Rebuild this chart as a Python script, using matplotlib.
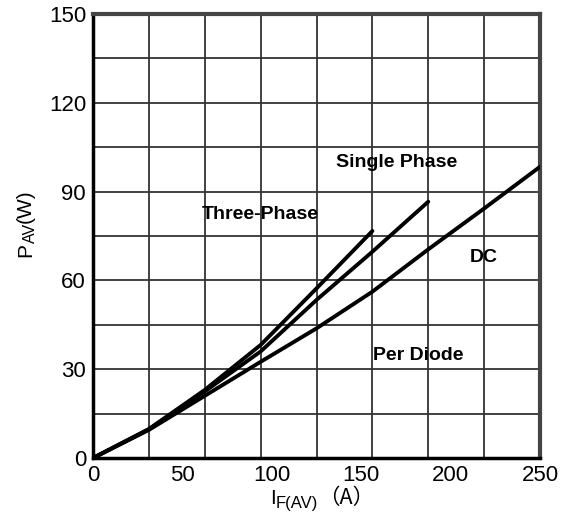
import numpy as np
import matplotlib
matplotlib.use("Agg")
import matplotlib.pyplot as plt

plt.rcParams['font.family'] = ['Liberation Sans', 'DejaVu Sans']

# current (A) vs average power (W)
i_three = [0, 31.25, 62.5, 93.75, 125, 156.25]
p_three = [0, 9.8, 23.0, 38.2, 57.3, 76.7]
i_single = [0, 31.25, 62.5, 93.75, 125, 156.25, 187.5]
p_single = [0, 9.7, 22.5, 36.0, 53.4, 69.7, 86.6]
i_dc = [0, 31.25, 62.5, 93.75, 125, 156.25, 187.5, 218.75, 250]
p_dc = [0, 9.5, 21.0, 32.5, 43.8, 56.2, 70.5, 84.3, 98.4]

x_ticks = [0, 50, 100, 150, 200, 250]
y_ticks = [0, 30, 60, 90, 120, 150]

W, H = 565, 519
fig = plt.figure(figsize=(W / 100, H / 100), dpi=100)
ax = fig.add_axes([0.1646, 0.1175, 0.7912, 0.8555])

for xs, ys in [(i_three, p_three), (i_single, p_single), (i_dc, p_dc)]:
    ax.plot(xs, ys, color='black', lw=2.8, solid_capstyle='round', zorder=3)

ax.set_xlim(0, 250)
ax.set_ylim(0, 150)
ax.set_xticks(x_ticks)
ax.set_yticks(y_ticks)
ax.set_xticks(np.linspace(0, 250, 9), minor=True)
ax.set_yticks(np.linspace(0, 150, 11), minor=True)
ax.xaxis.grid(True, which='minor', color='#333333', lw=1.3)
ax.yaxis.grid(True, which='both', color='#333333', lw=1.3)
ax.tick_params(which='both', length=0, labelsize=16)
ax.tick_params(axis='x', pad=5)
ax.tick_params(axis='y', pad=5)

for side in ['left', 'bottom']:
    ax.spines[side].set_linewidth(2.5)
    ax.spines[side].set_color('black')
for side in ['top', 'right']:
    ax.spines[side].set_linewidth(3)
    ax.spines[side].set_color('#444444')

opts = dict(fontsize=14, fontweight='bold', ha='center', va='center')
ax.text(170, 100, 'Single Phase', **opts)
ax.text(93.4, 82.1, 'Three-Phase', **opts)
ax.text(218.7, 67.9, 'DC', **opts)
ax.text(181.8, 34.8, 'Per Diode', **opts)

# axis labels built from pieces so the subscripts come out like the original
renderer = fig.canvas.get_renderer()


def chain(pieces, x0, y0, vertical):
    # pieces: (text, size, shift_px, family) ; x0, y0 in pixels from top-left
    pos = 0.0
    for s, size, shift, fam in pieces:
        if vertical:
            px, py = x0 + shift, y0 - pos
        else:
            px, py = x0 + pos, y0 + shift
        t = fig.text(px / W, 1 - py / H, s, fontsize=size, family=fam,
                     rotation=90 if vertical else 0, rotation_mode='anchor',
                     ha='left', va='baseline')
        bb = t.get_window_extent(renderer)
        pos += bb.height if vertical else bb.width


lat = ['Liberation Sans', 'DejaVu Sans']
cjk = ['Noto Sans CJK SC', 'DejaVu Sans']
chain([('P', 15, 0, lat), ('AV', 11.5, 4, lat), ('(W)', 15, 0, lat)], 31, 257, True)
chain([('I', 15, 0, lat), ('F(AV)', 12, 4, lat), ('（A）', 15.5, 0, cjk)], 270, 504, False)

fig.savefig('out.png', dpi=100)
